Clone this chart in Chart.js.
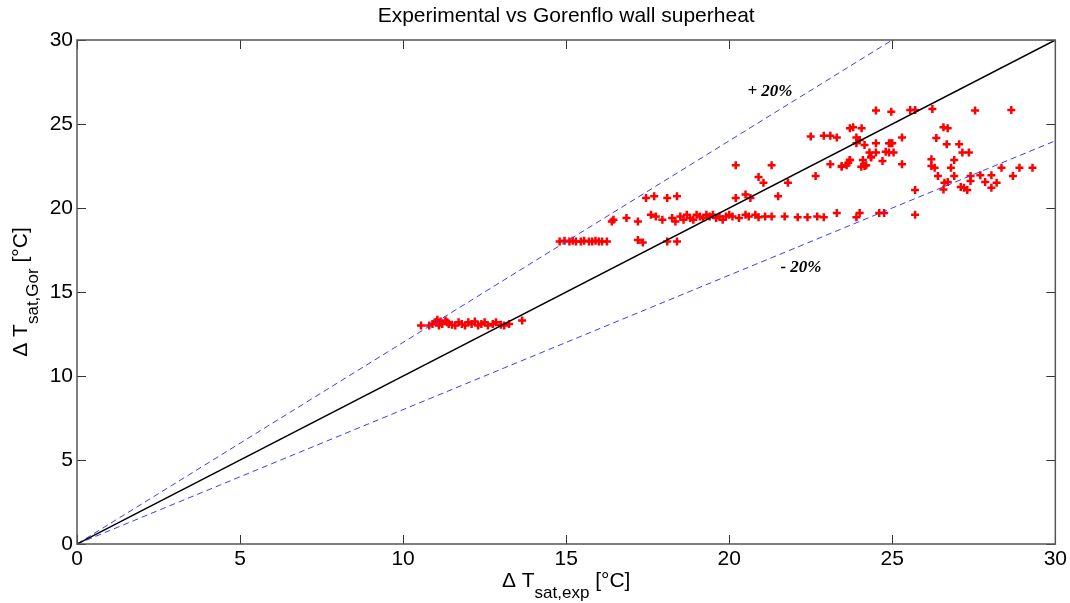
<!DOCTYPE html>
<html>
<head>
<meta charset="utf-8">
<script src="https://cdn.jsdelivr.net/npm/chart.js@4"></script>
<style>
  html, body { margin:0; padding:0; background:#fff; }
  #wrap { width:1070px; height:603px; }
</style>
</head>
<body>
<div id="wrap"><canvas id="c"></canvas></div>
<script>
Chart.defaults.font.family = "'Liberation Sans', Arial, sans-serif";
Chart.defaults.color = '#000';

// measured wall superheat [°C]
const dtExp = [
  10.55,10.8,10.9,11.0,11.05,11.1,11.15,11.2,11.3,11.35,11.4,11.5,11.6,11.7,11.8,11.9,12.0,12.1,12.2,12.3,12.4,12.5,12.6,12.75,12.85,13.0,13.1,13.25,13.65,
  14.8,14.95,15.1,15.2,15.3,15.45,15.55,15.7,15.8,15.9,16.0,16.1,16.25,17.2,17.35,18.1,18.4,
  17.45,17.7,18.1,18.4,
  16.4,16.45,16.85,17.2,17.6,17.75,17.95,18.25,18.35,18.5,18.6,18.7,18.8,18.9,19.0,19.1,19.2,19.3,19.4,19.5,19.6,19.7,19.8,19.9,20.0,20.1,20.3,20.5,20.6,20.8,20.9,21.1,21.3,21.7,22.1,22.4,22.7,22.9,23.3,23.9,24.0,24.6,24.75,25.7,
  20.2,20.5,20.65,21.5,20.2,21.3,20.9,21.05,21.8,22.65,25.7,
  24.5,24.97,25.55,25.7,26.23,27.54,28.65,
  22.5,22.9,23.1,23.3,23.7,23.8,24.06,23.9,24.0,23.9,24.15,24.5,24.3,24.5,24.9,25.0,24.9,25.04,25.3,
  23.1,23.45,23.6,23.7,23.65,24.05,24.15,24.1,24.35,24.7,25.3,23.45,23.7,24.2,24.35,24.8,24.95,
  26.57,26.7,26.35,26.67,27.05,27.15,27.35,26.2,26.2,26.3,26.9,26.8,26.4,26.9,26.6,26.7,26.57,27.1,27.2,27.3,27.4,27.7,28.04,27.85,28.04,28.2,28.35,28.7,28.9,29.3,27.4
];
// Gorenflo correlation wall superheat [°C]
const dtGor = [
  13.0,13.0,13.1,13.2,13.35,13.0,13.25,13.1,13.3,13.2,13.1,13.05,13.0,13.2,13.1,13.0,13.2,13.1,13.25,13.0,13.1,13.2,13.0,13.1,13.2,13.05,13.0,13.1,13.3,
  18.0,18.05,18.0,18.05,18.0,18.0,18.05,18.0,18.0,18.05,18.0,18.0,18.0,18.1,17.95,18.0,18.0,
  20.6,20.7,20.6,20.7,
  19.2,19.3,19.4,19.2,19.6,19.5,19.3,19.4,19.2,19.5,19.3,19.6,19.4,19.3,19.6,19.5,19.4,19.6,19.5,19.6,19.4,19.5,19.3,19.5,19.6,19.5,19.4,19.6,19.5,19.6,19.45,19.5,19.5,19.5,19.45,19.45,19.5,19.45,19.7,19.45,19.7,19.7,19.7,19.6,
  20.6,20.8,20.6,20.7,22.55,22.55,21.85,21.5,21.5,21.9,21.07,
  25.8,25.73,25.83,25.83,25.9,25.8,25.83,
  24.25,24.3,24.3,24.2,24.75,24.8,24.75,24.2,24.05,23.85,23.75,23.85,23.3,23.3,23.85,23.85,23.3,23.3,24.2,
  22.6,22.45,22.55,22.85,22.7,22.45,22.5,22.85,23.0,22.8,22.6,22.5,22.85,22.55,23.05,23.35,23.85,
  24.8,24.75,24.17,23.8,23.8,23.3,23.3,22.9,22.5,22.4,22.85,22.4,21.9,21.9,21.5,21.55,21.1,21.25,21.2,21.07,21.6,21.95,21.95,21.55,21.2,21.5,22.4,21.9,22.4,22.4,21.9
];

const refX = [0, 30];          // y = x
const plusX = [0, 25];         // y = 1.2 x
const minusX = [0, 30];        // y = 0.8 x
const axisTicks = [0, 5, 10, 15, 20, 25, 30];
const notes = [
  {text:'+ 20%', x:21.25, y:26.95},
  {text:'- 20%', x:22.2, y:16.45}
];
const title = 'Experimental vs Gorenflo wall superheat';

const pts = dtExp.map((v, i) => ({x:v, y:dtGor[i]}));
const line = (xs, k) => xs.map(v => ({x:v, y:k*v}));

// box, inward ticks, axis labels with subscripts, percentage notes
const matlabAxes = {
  id:'matlabAxes',
  afterDatasetsDraw(chart) {
    const {ctx, chartArea:a, scales:{x, y}} = chart;
    ctx.save();
    ctx.strokeStyle = '#333';
    ctx.lineWidth = 1;
    axisTicks.forEach(t => {
      const px = Math.round(x.getPixelForValue(t)) + 0.5;
      ctx.beginPath();
      ctx.moveTo(px, a.bottom); ctx.lineTo(px, a.bottom - 9);
      ctx.moveTo(px, a.top); ctx.lineTo(px, a.top + 9);
      ctx.stroke();
      const py = Math.round(y.getPixelForValue(t)) + 0.5;
      ctx.beginPath();
      ctx.moveTo(a.left, py); ctx.lineTo(a.left + 9, py);
      ctx.moveTo(a.right, py); ctx.lineTo(a.right - 9, py);
      ctx.stroke();
    });
    ctx.strokeStyle = '#555';
    ctx.lineWidth = 1.5;
    ctx.strokeRect(a.left, a.top, a.right - a.left, a.bottom - a.top);

    ctx.fillStyle = '#000';
    ctx.font = "bold italic 17px 'Liberation Serif', 'Times New Roman', serif";
    ctx.textAlign = 'center';
    ctx.textBaseline = 'middle';
    notes.forEach(n => ctx.fillText(n.text, x.getPixelForValue(n.x), y.getPixelForValue(n.y)));
    ctx.restore();
  },
  afterDraw(chart) {
    const {ctx, chartArea:a} = chart;
    const big = "21px 'Liberation Sans', Arial, sans-serif";
    const small = "17px 'Liberation Sans', Arial, sans-serif";
    const label = (main, sub, tail) => {
      ctx.font = big; const w1 = ctx.measureText(main).width;
      ctx.font = small; const w2 = ctx.measureText(sub).width;
      ctx.font = big; const w3 = ctx.measureText(tail).width;
      let s = -(w1 + w2 + w3) / 2;
      ctx.font = big; ctx.fillText(main, s, 0);
      ctx.font = small; ctx.fillText(sub, s + w1, 11);
      ctx.font = big; ctx.fillText(tail, s + w1 + w2, 0);
    };
    ctx.save();
    ctx.fillStyle = '#000';
    ctx.textAlign = 'center';
    ctx.textBaseline = 'middle';
    ctx.font = "21px 'Liberation Sans', Arial, sans-serif";
    ctx.fillText(title, (a.left + a.right) / 2, 16);
    ctx.restore();

    ctx.save();
    ctx.fillStyle = '#000';
    ctx.textAlign = 'left';
    ctx.textBaseline = 'alphabetic';
    ctx.translate((a.left + a.right) / 2, 587);
    label('\u0394 T', 'sat,exp', ' [\u00B0C]');
    ctx.restore();

    ctx.save();
    ctx.fillStyle = '#000';
    ctx.textAlign = 'left';
    ctx.textBaseline = 'alphabetic';
    ctx.translate(27, (a.top + a.bottom) / 2);
    ctx.rotate(-Math.PI / 2);
    label('\u0394 T', 'sat,Gor', ' [\u00B0C]');
    ctx.restore();
  }
};

new Chart(document.getElementById('c'), {
  type:'scatter',
  data:{
    datasets:[
      {label:'y = x', data:line(refX, 1), showLine:true, borderColor:'#000', borderWidth:1.5, pointRadius:0, order:0},
      {label:'+20%', data:line(plusX, 1.2), showLine:true, borderColor:'#3b3bff', borderWidth:1, borderDash:[6,4], pointRadius:0, order:0},
      {label:'-20%', data:line(minusX, 0.8), showLine:true, borderColor:'#3b3bff', borderWidth:1, borderDash:[6,4], pointRadius:0, order:0},
      {label:'data', data:pts, pointStyle:'cross', pointRadius:4, borderColor:'#ff0000', borderWidth:2.5, backgroundColor:'#ff0000', order:1}
    ]
  },
  options:{
    responsive:true, maintainAspectRatio:false, animation:false,
    layout:{padding:{top:40, right:13, left:0, bottom:0}},
    plugins:{legend:{display:false}, tooltip:{enabled:false}, title:{display:false}},
    scales:{
      x:{
        min:0, max:30,
        grid:{display:false, drawTicks:false}, border:{display:false},
        ticks:{stepSize:5, padding:3, font:{size:21}, color:'#000'},
        afterFit:s => { s.height = 59; }
      },
      y:{
        min:0, max:30,
        grid:{display:false, drawTicks:false}, border:{display:false},
        ticks:{stepSize:5, padding:4, font:{size:21}, color:'#000'},
        afterFit:s => { s.width = 77; }
      }
    }
  },
  plugins:[matlabAxes]
});
</script>
</body>
</html>
